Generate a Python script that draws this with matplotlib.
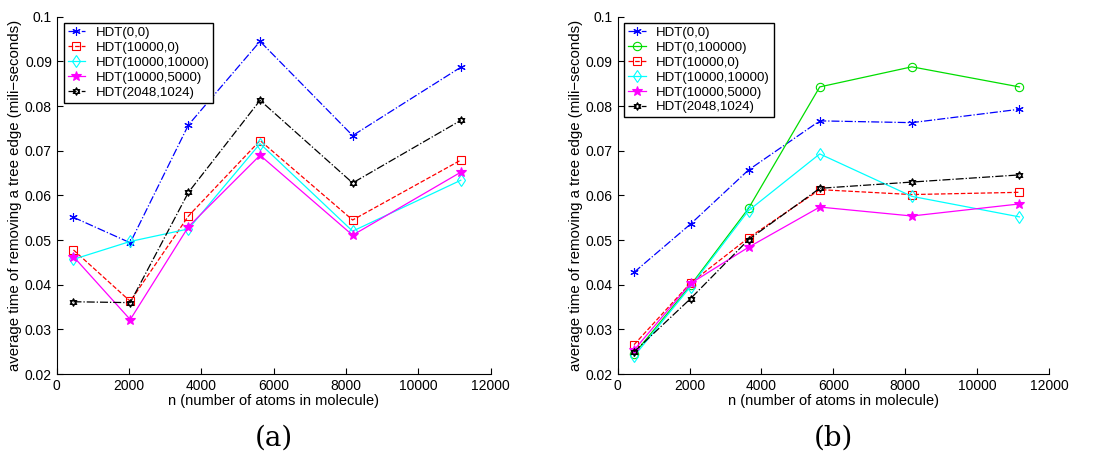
import matplotlib
matplotlib.use('Agg')
import matplotlib.pyplot as plt
from matplotlib.path import Path
from matplotlib.ticker import FormatStrFormatter

plt.rcParams['font.family'] = ['Liberation Sans', 'DejaVu Sans']

n_atoms = [460, 2030, 3640, 5620, 8180, 11170]

# panel (a)
a_labels = ['HDT(0,0)', 'HDT(10000,0)', 'HDT(10000,10000)', 'HDT(10000,5000)', 'HDT(2048,1024)']
a_hdt_0_0 = [0.0551, 0.0494, 0.0758, 0.0945, 0.0734, 0.0887]
a_hdt_10000_0 = [0.0478, 0.0363, 0.0554, 0.0723, 0.0545, 0.0679]
a_hdt_10000_10000 = [0.0457, 0.0497, 0.0525, 0.0716, 0.0520, 0.0634]
a_hdt_10000_5000 = [0.0463, 0.0322, 0.0530, 0.0690, 0.0511, 0.0652]
a_hdt_2048_1024 = [0.0362, 0.0360, 0.0607, 0.0813, 0.0628, 0.0768]

# panel (b)
b_labels = ['HDT(0,0)', 'HDT(0,100000)', 'HDT(10000,0)', 'HDT(10000,10000)',
            'HDT(10000,5000)', 'HDT(2048,1024)']
b_hdt_0_0 = [0.0428, 0.0536, 0.0657, 0.0767, 0.0763, 0.0793]
b_hdt_0_100000 = [0.0245, 0.0399, 0.0571, 0.0843, 0.0888, 0.0843]
b_hdt_10000_0 = [0.0266, 0.0404, 0.0505, 0.0613, 0.0602, 0.0607]
b_hdt_10000_10000 = [0.0240, 0.0396, 0.0566, 0.0693, 0.0598, 0.0552]
b_hdt_10000_5000 = [0.0254, 0.0403, 0.0484, 0.0574, 0.0554, 0.0581]
b_hdt_2048_1024 = [0.0250, 0.0369, 0.0501, 0.0616, 0.0630, 0.0646]

y_ticks = [0.02, 0.03, 0.04, 0.05, 0.06, 0.07, 0.08, 0.09, 0.1]
x_ticks = [0, 2000, 4000, 6000, 8000, 10000, 12000]

# hexagram marker (two triangles)
hexagram = Path([(0, 1), (0.866, -0.5), (-0.866, -0.5), (0, 1),
                 (0, -1), (0.866, 0.5), (-0.866, 0.5), (0, -1)],
                [Path.MOVETO, Path.LINETO, Path.LINETO, Path.CLOSEPOLY,
                 Path.MOVETO, Path.LINETO, Path.LINETO, Path.CLOSEPOLY])

styles = {
    'HDT(0,0)': dict(color='#0000ff', ls='-.', marker=(6, 2, 0), ms=6, mfc='#0000ff'),
    'HDT(0,100000)': dict(color='#00dd00', ls='-', marker='o', ms=6, mfc='none'),
    'HDT(10000,0)': dict(color='#ff0000', ls='--', marker='s', ms=5.5, mfc='none'),
    'HDT(10000,10000)': dict(color='#00ffff', ls='-', marker='d', ms=6.5, mfc='none'),
    'HDT(10000,5000)': dict(color='#ff00ff', ls='-', marker='*', ms=7.5, mfc='#ff00ff'),
    'HDT(2048,1024)': dict(color='black', ls='-.', marker=hexagram, ms=5.5, mfc='none'),
}

fig = plt.figure(figsize=(10.93, 4.54), dpi=100)
ax1 = fig.add_axes([0.052, 0.176, 0.397, 0.787])
ax2 = fig.add_axes([0.565, 0.176, 0.395, 0.787])

a_series = [a_hdt_0_0, a_hdt_10000_0, a_hdt_10000_10000, a_hdt_10000_5000, a_hdt_2048_1024]
b_series = [b_hdt_0_0, b_hdt_0_100000, b_hdt_10000_0, b_hdt_10000_10000,
            b_hdt_10000_5000, b_hdt_2048_1024]

for ax, labels, series, cap in [(ax1, a_labels, a_series, '(a)'),
                                (ax2, b_labels, b_series, '(b)')]:
    for lab, ys in zip(labels, series):
        st = styles[lab]
        ax.plot(n_atoms, ys, linestyle=st['ls'], color=st['color'], marker=st['marker'],
                markersize=st['ms'], markerfacecolor=st['mfc'], markeredgecolor=st['color'],
                markeredgewidth=0.8, linewidth=0.9, label=lab)
    ax.set_xlim(0, 12000)
    ax.set_ylim(0.02, 0.1)
    ax.set_xticks(x_ticks)
    ax.set_yticks(y_ticks)
    ax.yaxis.set_major_formatter(FormatStrFormatter('%g'))
    ax.spines['top'].set_visible(False)
    ax.spines['right'].set_visible(False)
    ax.tick_params(direction='in', length=4, labelsize=10, width=0.8)
    ax.set_xlabel('n (number of atoms in molecule)', fontsize=10.5, labelpad=1)
    ax.set_ylabel('average time of removing a tree edge (mili\u2212seconds)', fontsize=10.8, labelpad=2)
    leg = ax.legend(loc='upper left', bbox_to_anchor=(0.016, 0.983), borderaxespad=0,
                    fontsize=9.5, handlelength=1.3, handletextpad=0.8, borderpad=0.3,
                    labelspacing=0.2, fancybox=False, edgecolor='black', framealpha=1)
    leg.get_frame().set_linewidth(1.0)
    pos = ax.get_position()
    fig.text(pos.x0 + pos.width / 2, 0.035, cap, ha='center', va='center',
             fontsize=20, family='DejaVu Serif')

fig.savefig('out.png', dpi=100)
